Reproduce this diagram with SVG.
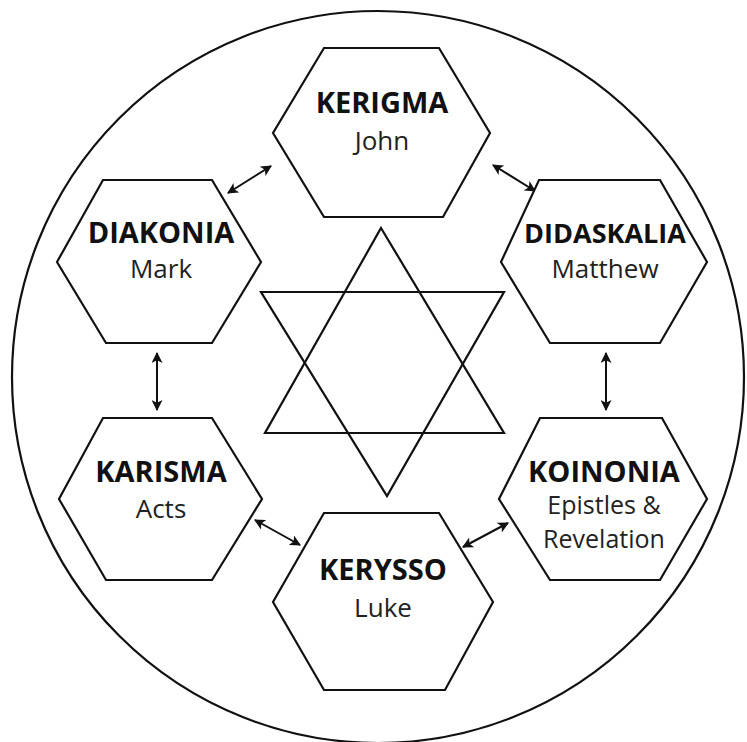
<svg xmlns="http://www.w3.org/2000/svg" width="747" height="742" viewBox="0 0 747 742">
<defs>
<style>
.hex{fill:#fff;stroke:#111;stroke-width:2.2;stroke-linejoin:miter}
.t{font-family:"Open Sans","Noto Sans","DejaVu Sans",sans-serif;font-weight:700;font-size:29px;fill:#111;text-anchor:middle}
.s{font-family:"Open Sans","Noto Sans","DejaVu Sans",sans-serif;font-weight:400;font-size:26px;fill:#222;text-anchor:middle}
.s2{font-size:25px}
.con{stroke:#111;stroke-width:2;fill:none;marker-start:url(#ah);marker-end:url(#ah)}
.star{fill:none;stroke:#111;stroke-width:2.2;stroke-linejoin:miter}
</style>
<marker id="ah" viewBox="0 0 10 10" refX="9" refY="5" markerWidth="5.5" markerHeight="5.5" orient="auto-start-reverse" markerUnits="strokeWidth">
<path d="M0,0 L10,5 L0,10 L2.5,5 Z" fill="#111"/>
</marker>
</defs>
<rect width="747" height="742" fill="#fff"/>
<circle cx="378" cy="377" r="366" fill="none" stroke="#111" stroke-width="2.2"/>
<g id="star">
<polygon class="star" points="381,228 504,433 265,433"/>
<polygon class="star" points="261,292 504,292 387,496"/>
</g>
<g id="connectors">
<line class="con" x1="228" y1="193" x2="271" y2="166"/>
<line class="con" x1="493" y1="165" x2="535" y2="191"/>
<line class="con" x1="157" y1="353" x2="157" y2="410"/>
<line class="con" x1="606" y1="353" x2="606" y2="410"/>
<line class="con" x1="255" y1="520" x2="300" y2="545"/>
<line class="con" x1="508" y1="523" x2="463" y2="547"/>
</g>
<g id="kerigma">
<polygon class="hex" points="324,48 439,48 490,133 443,217 324,217 273,133"/>
<text class="t" x="382" y="113">KERIGMA</text>
<text class="s" x="382" y="150">John</text>
</g>
<g id="diakonia">
<polygon class="hex" points="103,180 212,180 261,262 212,343 106,343 57,262"/>
<text class="t" x="161" y="243">DIAKONIA</text>
<text class="s" x="161" y="278">Mark</text>
</g>
<g id="didaskalia">
<polygon class="hex" points="539,180 660,180 707,262 660,343 550,343 501,262"/>
<text class="t" x="605" y="243" style="font-size:27px">DIDASKALIA</text>
<text class="s" x="605" y="278">Matthew</text>
</g>
<g id="karisma">
<polygon class="hex" points="103,418 212,418 262,499 212,580 106,580 59,499"/>
<text class="t" x="161" y="482">KARISMA</text>
<text class="s" x="161" y="518">Acts</text>
</g>
<g id="koinonia">
<polygon class="hex" points="540,418 662,418 707,499 660,580 550,580 499,499"/>
<text class="t" x="604" y="482">KOINONIA</text>
<text class="s s2" x="604" y="514">Epistles &amp;</text>
<text class="s s2" x="604" y="548">Revelation</text>
</g>
<g id="kerysso">
<polygon class="hex" points="324,513 439,513 493,602 445,690 324,690 273,602"/>
<text class="t" x="383" y="580">KERYSSO</text>
<text class="s" x="383" y="617">Luke</text>
</g>
</svg>
